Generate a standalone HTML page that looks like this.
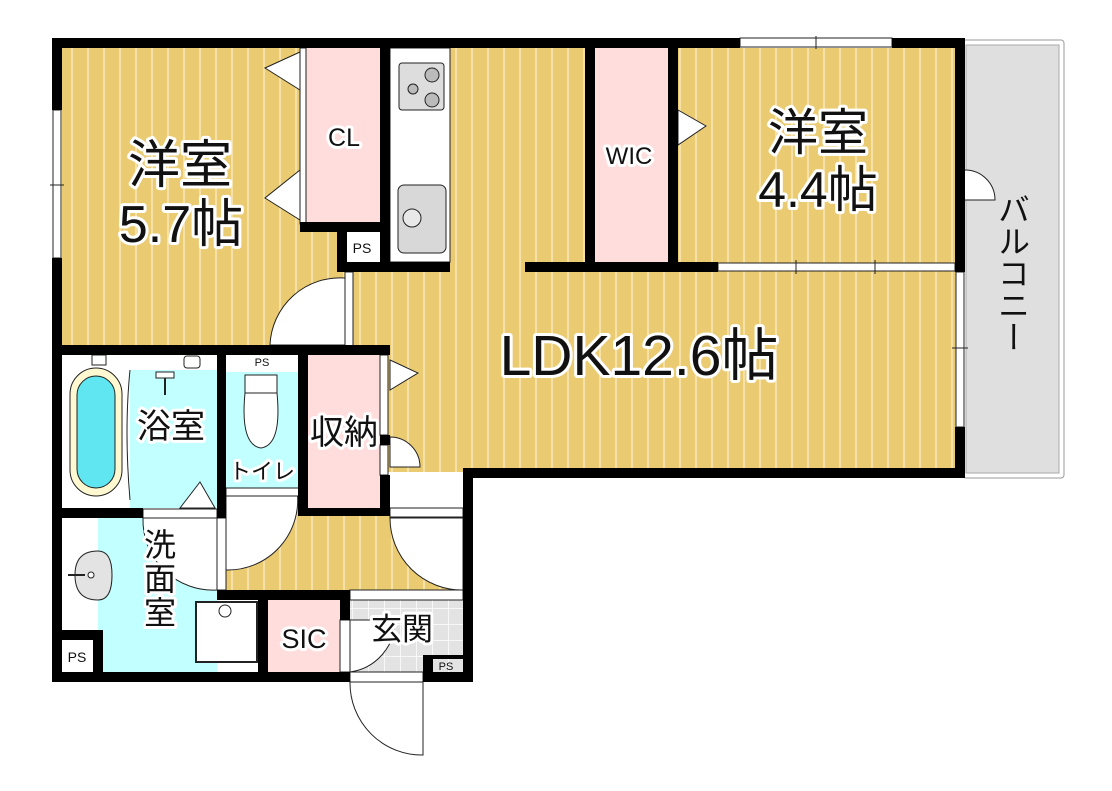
<!DOCTYPE html>
<html><head><meta charset="utf-8"><style>
html,body{margin:0;padding:0;background:#fff;}
svg{display:block;}
text{font-family:"Liberation Sans","Noto Sans CJK JP",sans-serif;fill:#111;paint-order:stroke;stroke:#fff;stroke-linejoin:round;}
</style></head><body>
<svg width="1112" height="791" viewBox="0 0 1112 791" xmlns="http://www.w3.org/2000/svg">
<defs>
<pattern id="fl" width="16" height="10" patternUnits="userSpaceOnUse">
<rect width="16" height="10" fill="#EACB72"/><rect x="7" width="2" height="10" fill="#F6E2A8"/>
</pattern>
<pattern id="tile" width="16" height="16" patternUnits="userSpaceOnUse">
<rect width="16" height="16" fill="#E3E3E3"/><path d="M0 0H16M0 0V16" stroke="#fff" stroke-width="1.5"/>
</pattern>
</defs>
<rect x="963" y="40" width="101" height="438" rx="3" fill="#fff" stroke="#999" stroke-width="1"/>
<rect x="966" y="45" width="93" height="428" fill="#DFDFDF" stroke="#aaa" stroke-width="1"/>
<rect x="62" y="48" width="300" height="300" fill="url(#fl)"/>
<rect x="345" y="48" width="615" height="424" fill="url(#fl)"/>
<rect x="226" y="508" width="240" height="84" fill="url(#fl)"/>
<rect x="305" y="48" width="75" height="176" fill="#FFDDDD"/>
<rect x="595" y="48" width="75" height="216" fill="#FFDDDD"/>
<rect x="308" y="355" width="72" height="153" fill="#FFDDDD"/>
<rect x="268" y="600" width="72" height="72" fill="#FFDDDD"/>
<rect x="62" y="355" width="155" height="153" fill="#fff"/>
<rect x="130" y="370" width="87" height="138" fill="#C2FFFF"/>
<rect x="226" y="372" width="74" height="116" fill="#C2FFFF"/>
<rect x="62" y="518" width="155" height="154" fill="#C2FFFF"/>
<rect x="62" y="518" width="36" height="112" fill="#fff"/>
<rect x="350" y="600" width="113" height="72" fill="url(#tile)"/>
<rect x="390" y="48" width="60" height="214" fill="#fff" stroke="#222" stroke-width="1"/>
<rect x="345" y="232" width="35" height="32" fill="#fff"/>
<rect x="226" y="355" width="74" height="17" fill="#fff"/>
<rect x="62" y="640" width="31" height="32" fill="#fff"/>
<rect x="70" y="368" width="52" height="128" rx="26" fill="#FFF8D0" stroke="#222" stroke-width="1"/>
<rect x="77" y="376" width="38" height="112" rx="19" fill="#5FE6F0" stroke="#222" stroke-width="1"/>
<path d="M130 370 Q124 430 130 500" fill="none" stroke="#222" stroke-width="1"/>
<rect x="92" y="355" width="14" height="10" fill="#fff" stroke="#222"/>
<rect x="156" y="372" width="18" height="6" fill="#fff" stroke="#222"/>
<line x1="165" y1="378" x2="165" y2="395" stroke="#222" stroke-width="2"/>
<rect x="184" y="356" width="16" height="12" rx="3" fill="#fff" stroke="#222"/>
<path d="M180 508 L200 482 L215 508Z" fill="#fff" stroke="#222"/>
<rect x="245" y="375" width="32" height="18" fill="#fff" stroke="#222"/>
<path d="M245 393 Q240 445 261 448 Q282 445 277 393Z" fill="#fff" stroke="#222"/>
<path d="M98 551 Q75 551 75 575 Q75 600 98 600 Q112 600 112 575 Q112 551 98 551Z" fill="#E3E3E3" stroke="#222"/>
<line x1="68" y1="575" x2="85" y2="575" stroke="#222" stroke-width="2"/>
<circle cx="91" cy="575" r="3" fill="#fff" stroke="#222"/>
<rect x="196" y="602" width="61" height="60" fill="#fff" stroke="#222" stroke-width="2"/>
<circle cx="225" cy="611" r="6" fill="#fff" stroke="#222"/>
<rect x="399" y="63" width="45" height="47" rx="3" fill="#ddd" stroke="#222"/>
<circle cx="432" cy="75" r="7" fill="#bbb" stroke="#222"/><circle cx="432" cy="100" r="7" fill="#bbb" stroke="#222"/><circle cx="413" cy="89" r="5" fill="#bbb" stroke="#222"/>
<rect x="398" y="185" width="48" height="68" rx="6" fill="#D8D8D8" stroke="#222"/>
<circle cx="412" cy="218" r="9" fill="#E8E8E8" stroke="#222"/>
<path d="M345 278 A70 70 0 0 0 270 345 L345 345Z" fill="#fff" stroke="#222"/>
<path d="M297 490 A70 70 0 0 1 226 570 L226 490Z" fill="#fff" stroke="#222"/>
<path d="M390 518 A72 72 0 0 0 463 590 L463 518Z" fill="#fff" stroke="#222"/>
<path d="M143 518 A70 70 0 0 0 217 590 L217 518Z" fill="#fff" stroke="#222"/>
<path d="M350 620 L395 620 A52 52 0 0 1 350 672Z" fill="#fff" stroke="#222"/>
<path d="M350 682 A72 72 0 0 0 423 755 L423 682" fill="#fff" stroke="#222"/>
<path d="M390 437 A30 30 0 0 1 420 467 L390 467Z" fill="#fff" stroke="#222"/>
<path d="M965 170 A30 30 0 0 1 995 200 L965 200" fill="#fff" stroke="#222"/>
<path d="M300 52 L265 68 L300 90Z M300 170 L265 198 L300 220Z" fill="#fff" stroke="#222"/>
<path d="M390 360 L418 373 L390 390Z" fill="#fff" stroke="#222"/>
<path d="M678 110 L706 126 L678 145Z" fill="#fff" stroke="#222"/>
<rect x="740" y="38" width="152" height="9" fill="#fff" stroke="#222"/>
<line x1="816" y1="36" x2="816" y2="49" stroke="#222"/>
<rect x="53" y="110" width="8" height="148" fill="#fff" stroke="#222"/>
<line x1="50" y1="185" x2="64" y2="185" stroke="#222"/>
<rect x="718" y="263" width="237" height="8" fill="#fff" stroke="#222"/>
<line x1="796" y1="260" x2="796" y2="274" stroke="#222"/><line x1="875" y1="260" x2="875" y2="274" stroke="#222"/>
<rect x="956" y="272" width="8" height="155" fill="#fff" stroke="#222"/>
<line x1="952" y1="348" x2="968" y2="348" stroke="#222"/>
<rect x="345" y="272" width="8" height="76" fill="#fff" stroke="#222"/>
<rect x="300" y="48" width="6" height="176" fill="#fff" stroke="#222"/>
<rect x="670" y="108" width="6" height="75" fill="#fff" stroke="#222"/>
<rect x="380" y="355" width="8" height="80" fill="#fff" stroke="#222"/>
<rect x="380" y="445" width="8" height="30" fill="#fff" stroke="#222"/>
<rect x="226" y="488" width="74" height="8" fill="#fff" stroke="#222"/>
<rect x="143" y="509" width="74" height="9" fill="#fff" stroke="#222"/>
<rect x="390" y="508" width="73" height="9" fill="#fff" stroke="#222"/>
<rect x="217" y="518" width="9" height="72" fill="#fff" stroke="#222"/>
<rect x="350" y="590" width="113" height="10" fill="#fff" stroke="#222"/>
<rect x="340" y="620" width="10" height="52" fill="#fff" stroke="#222"/>
<rect x="350" y="672" width="73" height="10" fill="#fff" stroke="#222"/>
<g fill="#000">
<rect x="52" y="38" width="688" height="10"/><rect x="892" y="38" width="73" height="10"/>
<rect x="52" y="38" width="10" height="72"/><rect x="52" y="258" width="10" height="424"/>
<rect x="955" y="38" width="10" height="234"/><rect x="955" y="427" width="10" height="51"/>
<rect x="465" y="468" width="500" height="10"/>
<rect x="463" y="468" width="10" height="214"/>
<rect x="52" y="672" width="298" height="10"/><rect x="423" y="672" width="50" height="10"/>
<rect x="423" y="657" width="10" height="25"/><rect x="423" y="655" width="50" height="4"/>
<rect x="300" y="222" width="90" height="10"/>
<rect x="380" y="40" width="10" height="232"/><rect x="337" y="222" width="10" height="50"/>
<rect x="337" y="262" width="113" height="10"/>
<rect x="585" y="40" width="10" height="232"/><rect x="668" y="40" width="10" height="232"/>
<rect x="525" y="262" width="193" height="10"/>
<rect x="52" y="345" width="338" height="10"/>
<rect x="217" y="345" width="9" height="173"/>
<rect x="298" y="345" width="10" height="170"/><rect x="380" y="475" width="10" height="40"/>
<rect x="298" y="508" width="92" height="8"/>
<rect x="380" y="435" width="10" height="10"/>
<rect x="52" y="508" width="91" height="10"/>
<rect x="217" y="590" width="133" height="10"/>
<rect x="258" y="598" width="10" height="84"/>
<rect x="340" y="590" width="10" height="30"/>
<rect x="93" y="630" width="10" height="52"/><rect x="52" y="630" width="51" height="10"/>
</g>
<g stroke-width="6">
<text x="180" y="183" font-size="52" text-anchor="middle">洋室</text>
<text x="181" y="242" font-size="52" text-anchor="middle">5.7帖</text>
<text x="344" y="146" font-size="25" text-anchor="middle">CL</text>
<text x="629" y="164" font-size="24" text-anchor="middle">WIC</text>
<text x="818" y="150" font-size="50" text-anchor="middle">洋室</text>
<text x="818" y="207" font-size="50" text-anchor="middle">4.4帖</text>
<text x="639" y="375" font-size="57" text-anchor="middle">LDK12.6帖</text>
<text x="171" y="438" font-size="34" text-anchor="middle">浴室</text>
<text x="262" y="479" font-size="22" text-anchor="middle">トイレ</text>
<text x="344" y="444" font-size="34" text-anchor="middle">収納</text>
<text x="160" y="556" font-size="32" text-anchor="middle">洗</text>
<text x="160" y="590" font-size="32" text-anchor="middle">面</text>
<text x="160" y="624" font-size="32" text-anchor="middle">室</text>
<text x="304" y="648" font-size="27" text-anchor="middle">SIC</text>
<text x="402" y="640" font-size="31" text-anchor="middle">玄関</text>
</g>
<text x="1012" y="193" font-size="32" stroke-width="0" writing-mode="tb" style="writing-mode:vertical-rl">バルコニー</text>
<g font-size="11" text-anchor="middle" stroke-width="0">
<text x="362" y="253" font-size="14">PS</text>
<text x="262" y="366">PS</text>
<text x="77" y="662" font-size="14">PS</text>
<text x="446" y="670">PS</text>
</g>
</svg>
</body></html>
